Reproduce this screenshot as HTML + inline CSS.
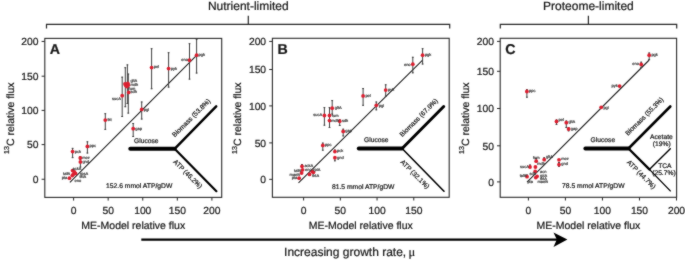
<!DOCTYPE html>
<html><head><meta charset="utf-8"><style>
html,body{margin:0;padding:0;background:#fff;}
svg{display:block;will-change:transform;}
text{font-family:"Liberation Sans", sans-serif;fill:#1a1a1a;stroke:#1a1a1a;stroke-width:0.22px;text-rendering:geometricPrecision;}
.lb{fill:#3a3a3a;stroke:#3a3a3a;stroke-width:0.2px;}
</style></head><body>
<svg width="685" height="260" viewBox="0 0 685 260">
<defs><filter id="sf" color-interpolation-filters="sRGB" filterUnits="userSpaceOnUse" x="0" y="0" width="685" height="260"><feConvolveMatrix order="3" kernelMatrix="1 2 1 2 20 2 1 2 1" divisor="32" edgeMode="duplicate"/></filter></defs><g filter="url(#sf)"><rect x="0" y="0" width="685" height="260" fill="#fff"/>
<text x="248.3" y="9.9" text-anchor="middle" font-size="12">Nutrient-limited</text>
<path d="M46.5,28.6 V24.3 H449.7 V28.6 M248.3,24.3 V15.8" fill="none" stroke="#2a2a2a" stroke-width="1.2"/>
<text x="588.4" y="9.9" text-anchor="middle" font-size="12">Proteome-limited</text>
<path d="M500.3,28.6 V24.3 H676.7 V28.6 M588.4,24.3 V15.8" fill="none" stroke="#2a2a2a" stroke-width="1.2"/>
<rect x="44.8" y="38.4" width="176.90" height="159.00" fill="none" stroke="#2a2a2a" stroke-width="1.1"/>
<line x1="41.60" y1="179.25" x2="44.80" y2="179.25" stroke="#2a2a2a" stroke-width="1"/>
<text x="38.50" y="183.00" text-anchor="end" font-size="10.3">0</text>
<line x1="41.60" y1="144.60" x2="44.80" y2="144.60" stroke="#2a2a2a" stroke-width="1"/>
<text x="38.50" y="148.35" text-anchor="end" font-size="10.3">50</text>
<line x1="41.60" y1="110.40" x2="44.80" y2="110.40" stroke="#2a2a2a" stroke-width="1"/>
<text x="38.50" y="114.15" text-anchor="end" font-size="10.3">100</text>
<line x1="41.60" y1="76.20" x2="44.80" y2="76.20" stroke="#2a2a2a" stroke-width="1"/>
<text x="38.50" y="79.95" text-anchor="end" font-size="10.3">150</text>
<line x1="41.60" y1="41.45" x2="44.80" y2="41.45" stroke="#2a2a2a" stroke-width="1"/>
<text x="38.50" y="45.20" text-anchor="end" font-size="10.3">200</text>
<line x1="73.60" y1="197.40" x2="73.60" y2="200.60" stroke="#2a2a2a" stroke-width="1"/>
<text x="73.60" y="213.6" text-anchor="middle" font-size="10.3">0</text>
<line x1="108.17" y1="197.40" x2="108.17" y2="200.60" stroke="#2a2a2a" stroke-width="1"/>
<text x="108.17" y="213.6" text-anchor="middle" font-size="10.3">50</text>
<line x1="142.75" y1="197.40" x2="142.75" y2="200.60" stroke="#2a2a2a" stroke-width="1"/>
<text x="142.75" y="213.6" text-anchor="middle" font-size="10.3">100</text>
<line x1="177.32" y1="197.40" x2="177.32" y2="200.60" stroke="#2a2a2a" stroke-width="1"/>
<text x="177.32" y="213.6" text-anchor="middle" font-size="10.3">150</text>
<line x1="211.90" y1="197.40" x2="211.90" y2="200.60" stroke="#2a2a2a" stroke-width="1"/>
<text x="211.90" y="213.6" text-anchor="middle" font-size="10.3">200</text>
<text x="133.25" y="228.8" text-anchor="middle" font-size="10.5">ME-Model relative flux</text>
<text transform="translate(13.50,118.20) rotate(-90)" text-anchor="middle" font-size="10.5"><tspan font-size="7.2" dy="-4.6">13</tspan><tspan dy="4.6">C relative flux</tspan></text>
<text x="49.80" y="53.6" font-size="14.2" font-weight="bold">A</text>
<rect x="272.4" y="38.3" width="176.80" height="159.00" fill="none" stroke="#2a2a2a" stroke-width="1.1"/>
<line x1="269.20" y1="179.35" x2="272.40" y2="179.35" stroke="#2a2a2a" stroke-width="1"/>
<text x="266.10" y="183.10" text-anchor="end" font-size="10.3">0</text>
<line x1="269.20" y1="142.90" x2="272.40" y2="142.90" stroke="#2a2a2a" stroke-width="1"/>
<text x="266.10" y="146.65" text-anchor="end" font-size="10.3">50</text>
<line x1="269.20" y1="105.90" x2="272.40" y2="105.90" stroke="#2a2a2a" stroke-width="1"/>
<text x="266.10" y="109.65" text-anchor="end" font-size="10.3">100</text>
<line x1="269.20" y1="69.50" x2="272.40" y2="69.50" stroke="#2a2a2a" stroke-width="1"/>
<text x="266.10" y="73.25" text-anchor="end" font-size="10.3">150</text>
<line x1="269.20" y1="41.45" x2="272.40" y2="41.45" stroke="#2a2a2a" stroke-width="1"/>
<text x="266.10" y="45.20" text-anchor="end" font-size="10.3">200</text>
<line x1="303.60" y1="197.30" x2="303.60" y2="200.50" stroke="#2a2a2a" stroke-width="1"/>
<text x="303.60" y="213.6" text-anchor="middle" font-size="10.3">0</text>
<line x1="340.33" y1="197.30" x2="340.33" y2="200.50" stroke="#2a2a2a" stroke-width="1"/>
<text x="340.33" y="213.6" text-anchor="middle" font-size="10.3">50</text>
<line x1="377.05" y1="197.30" x2="377.05" y2="200.50" stroke="#2a2a2a" stroke-width="1"/>
<text x="377.05" y="213.6" text-anchor="middle" font-size="10.3">100</text>
<line x1="413.78" y1="197.30" x2="413.78" y2="200.50" stroke="#2a2a2a" stroke-width="1"/>
<text x="413.78" y="213.6" text-anchor="middle" font-size="10.3">150</text>
<text x="360.80" y="228.8" text-anchor="middle" font-size="10.5">ME-Model relative flux</text>
<text transform="translate(241.10,118.20) rotate(-90)" text-anchor="middle" font-size="10.5"><tspan font-size="7.2" dy="-4.6">13</tspan><tspan dy="4.6">C relative flux</tspan></text>
<text x="277.40" y="53.6" font-size="14.2" font-weight="bold">B</text>
<rect x="500.2" y="38.3" width="176.40" height="159.00" fill="none" stroke="#2a2a2a" stroke-width="1.1"/>
<line x1="497.00" y1="181.90" x2="500.20" y2="181.90" stroke="#2a2a2a" stroke-width="1"/>
<text x="493.90" y="185.65" text-anchor="end" font-size="10.3">0</text>
<line x1="497.00" y1="145.80" x2="500.20" y2="145.80" stroke="#2a2a2a" stroke-width="1"/>
<text x="493.90" y="149.55" text-anchor="end" font-size="10.3">50</text>
<line x1="497.00" y1="108.50" x2="500.20" y2="108.50" stroke="#2a2a2a" stroke-width="1"/>
<text x="493.90" y="112.25" text-anchor="end" font-size="10.3">100</text>
<line x1="497.00" y1="71.30" x2="500.20" y2="71.30" stroke="#2a2a2a" stroke-width="1"/>
<text x="493.90" y="75.05" text-anchor="end" font-size="10.3">150</text>
<line x1="497.00" y1="41.40" x2="500.20" y2="41.40" stroke="#2a2a2a" stroke-width="1"/>
<text x="493.90" y="45.15" text-anchor="end" font-size="10.3">200</text>
<line x1="528.40" y1="197.30" x2="528.40" y2="200.50" stroke="#2a2a2a" stroke-width="1"/>
<text x="528.40" y="213.6" text-anchor="middle" font-size="10.3">0</text>
<line x1="565.42" y1="197.30" x2="565.42" y2="200.50" stroke="#2a2a2a" stroke-width="1"/>
<text x="565.42" y="213.6" text-anchor="middle" font-size="10.3">50</text>
<line x1="602.45" y1="197.30" x2="602.45" y2="200.50" stroke="#2a2a2a" stroke-width="1"/>
<text x="602.45" y="213.6" text-anchor="middle" font-size="10.3">100</text>
<line x1="639.48" y1="197.30" x2="639.48" y2="200.50" stroke="#2a2a2a" stroke-width="1"/>
<text x="639.48" y="213.6" text-anchor="middle" font-size="10.3">150</text>
<line x1="676.50" y1="197.30" x2="676.50" y2="200.50" stroke="#2a2a2a" stroke-width="1"/>
<text x="676.50" y="213.6" text-anchor="middle" font-size="10.3">200</text>
<text x="588.40" y="228.8" text-anchor="middle" font-size="10.5">ME-Model relative flux</text>
<text transform="translate(468.90,118.20) rotate(-90)" text-anchor="middle" font-size="10.5"><tspan font-size="7.2" dy="-4.6">13</tspan><tspan dy="4.6">C relative flux</tspan></text>
<text x="505.20" y="53.6" font-size="14.2" font-weight="bold">C</text>
<line x1="69.9" y1="182.4" x2="196.6" y2="55.3" stroke="#222" stroke-width="1.1"/>
<line x1="196.6" y1="38.9" x2="196.6" y2="73.5" stroke="#404040" stroke-width="1.0"/>
<path d="M195.70,39.40h1.8M195.70,73.00h1.8" stroke="#404040" stroke-width="1.0"/>
<line x1="189.5" y1="43.2" x2="189.5" y2="79.6" stroke="#404040" stroke-width="1.0"/>
<path d="M188.60,43.70h1.8M188.60,79.10h1.8" stroke="#404040" stroke-width="1.0"/>
<line x1="151.6" y1="48.2" x2="151.6" y2="89.2" stroke="#404040" stroke-width="1.0"/>
<path d="M150.70,48.70h1.8M150.70,88.70h1.8" stroke="#404040" stroke-width="1.0"/>
<line x1="168.6" y1="52.2" x2="168.6" y2="87.6" stroke="#404040" stroke-width="1.0"/>
<path d="M167.70,52.70h1.8M167.70,87.10h1.8" stroke="#404040" stroke-width="1.0"/>
<line x1="125.3" y1="67.2" x2="125.3" y2="107.2" stroke="#404040" stroke-width="1.0"/>
<path d="M124.40,67.70h1.8M124.40,106.70h1.8" stroke="#404040" stroke-width="1.0"/>
<line x1="127.4" y1="64.4" x2="127.4" y2="104.0" stroke="#404040" stroke-width="1.0"/>
<path d="M126.50,64.90h1.8M126.50,103.50h1.8" stroke="#404040" stroke-width="1.0"/>
<line x1="128.3" y1="73.6" x2="128.3" y2="113.6" stroke="#404040" stroke-width="1.0"/>
<path d="M127.40,74.10h1.8M127.40,113.10h1.8" stroke="#404040" stroke-width="1.0"/>
<line x1="122.2" y1="76.7" x2="122.2" y2="117.0" stroke="#404040" stroke-width="1.0"/>
<path d="M121.30,77.20h1.8M121.30,116.50h1.8" stroke="#404040" stroke-width="1.0"/>
<line x1="141.7" y1="101.5" x2="141.7" y2="119.5" stroke="#404040" stroke-width="1.0"/>
<path d="M140.80,102.00h1.8M140.80,119.00h1.8" stroke="#404040" stroke-width="1.0"/>
<line x1="105.3" y1="113.2" x2="105.3" y2="129.9" stroke="#404040" stroke-width="1.0"/>
<path d="M104.40,113.70h1.8M104.40,129.40h1.8" stroke="#404040" stroke-width="1.0"/>
<line x1="133.2" y1="123.0" x2="133.2" y2="137.0" stroke="#404040" stroke-width="1.0"/>
<path d="M132.30,123.50h1.8M132.30,136.50h1.8" stroke="#404040" stroke-width="1.0"/>
<line x1="87.4" y1="141.3" x2="87.4" y2="153.5" stroke="#404040" stroke-width="1.0"/>
<path d="M86.50,141.80h1.8M86.50,153.00h1.8" stroke="#404040" stroke-width="1.0"/>
<line x1="72.6" y1="147.9" x2="72.6" y2="158.1" stroke="#404040" stroke-width="1.0"/>
<path d="M71.70,148.40h1.8M71.70,157.60h1.8" stroke="#404040" stroke-width="1.0"/>
<line x1="80.3" y1="156.0" x2="80.3" y2="160.0" stroke="#404040" stroke-width="1.0"/>
<path d="M79.40,156.50h1.8M79.40,159.50h1.8" stroke="#404040" stroke-width="1.0"/>
<line x1="80.4" y1="162" x2="80.4" y2="167.5" stroke="#404040" stroke-width="1.0"/>
<path d="M79.50,162.50h1.8M79.50,167.00h1.8" stroke="#404040" stroke-width="1.0"/>
<circle cx="196.6" cy="55.2" r="1.9" fill="#dc1f30"/>
<circle cx="189.5" cy="60.2" r="1.9" fill="#dc1f30"/>
<circle cx="151.6" cy="67.6" r="1.9" fill="#dc1f30"/>
<circle cx="168.6" cy="68.6" r="1.9" fill="#dc1f30"/>
<circle cx="125.8" cy="85.6" r="1.9" fill="#dc1f30"/>
<circle cx="127.8" cy="83.3" r="1.9" fill="#dc1f30"/>
<circle cx="127.0" cy="86.5" r="1.9" fill="#dc1f30"/>
<circle cx="125.0" cy="84.0" r="1.9" fill="#dc1f30"/>
<circle cx="128.3" cy="85.2" r="1.9" fill="#dc1f30"/>
<circle cx="128.7" cy="92.4" r="1.9" fill="#dc1f30"/>
<circle cx="122.2" cy="95.7" r="1.9" fill="#dc1f30"/>
<circle cx="141.7" cy="109.4" r="1.9" fill="#dc1f30"/>
<circle cx="105.3" cy="120.1" r="1.9" fill="#dc1f30"/>
<circle cx="133.2" cy="128.7" r="1.9" fill="#dc1f30"/>
<circle cx="87.4" cy="146.4" r="1.9" fill="#dc1f30"/>
<circle cx="72.6" cy="151.6" r="1.9" fill="#dc1f30"/>
<circle cx="80.3" cy="157.9" r="1.9" fill="#dc1f30"/>
<circle cx="80.4" cy="161.9" r="1.9" fill="#dc1f30"/>
<circle cx="72.6" cy="170.6" r="1.9" fill="#dc1f30"/>
<circle cx="74.3" cy="172.0" r="1.9" fill="#dc1f30"/>
<circle cx="75.5" cy="173.4" r="1.9" fill="#dc1f30"/>
<circle cx="73.2" cy="174.4" r="1.9" fill="#dc1f30"/>
<circle cx="72.3" cy="175.6" r="1.9" fill="#dc1f30"/>
<circle cx="69.4" cy="178.2" r="1.9" fill="#dc1f30"/>
<text class="lb" x="198.6" y="56.00" font-size="4.0" text-anchor="start">pgk</text>
<text class="lb" x="188.0" y="61.20" font-size="4.0" text-anchor="end">eno</text>
<text class="lb" x="153.8" y="68.40" font-size="4.0" text-anchor="start">pel</text>
<text class="lb" x="170.8" y="69.50" font-size="4.0" text-anchor="start">pyk</text>
<text class="lb" x="130.4" y="81.80" font-size="4.0" text-anchor="start">gltA</text>
<text class="lb" x="130.4" y="85.60" font-size="4.0" text-anchor="start">mdh</text>
<text class="lb" x="128.6" y="89.80" font-size="4.0" text-anchor="start">fum</text>
<text class="lb" x="130.6" y="93.30" font-size="4.0" text-anchor="start">sdh</text>
<text class="lb" x="121.0" y="100.40" font-size="4.0" text-anchor="end">sucA</text>
<text class="lb" x="143.8" y="111.00" font-size="4.0" text-anchor="start">pgi</text>
<text class="lb" x="107.4" y="121.00" font-size="4.0" text-anchor="start">tkt</text>
<text class="lb" x="135.2" y="129.60" font-size="4.0" text-anchor="start">gap</text>
<text class="lb" x="89.6" y="147.30" font-size="4.0" text-anchor="start">ppc</text>
<text class="lb" x="74.8" y="152.50" font-size="4.0" text-anchor="start">pck</text>
<text class="lb" x="82.2" y="158.70" font-size="4.0" text-anchor="start">mez</text>
<text class="lb" x="82.4" y="162.90" font-size="4.0" text-anchor="start">gnd</text>
<text class="lb" x="72.5" y="169.60" font-size="4.0" text-anchor="start">ackA</text>
<text class="lb" x="70.0" y="174.50" font-size="4.0" text-anchor="end">talB</text>
<text class="lb" x="80.0" y="175.10" font-size="4.0" text-anchor="start">rpsA</text>
<text class="lb" x="79.4" y="178.40" font-size="4.0" text-anchor="start">tktA</text>
<text class="lb" x="67.2" y="178.90" font-size="4.0" text-anchor="end">pta</text>
<text class="lb" x="74.5" y="181.90" font-size="4.0" text-anchor="start">eno</text>
<line x1="130.3" y1="148.8" x2="174.6" y2="148.8" stroke="#000" stroke-width="4.0" stroke-linecap="round"/>
<line x1="174.6" y1="148.8" x2="216.2" y2="106.3" stroke="#000" stroke-width="2.5" stroke-linecap="round"/>
<line x1="174.6" y1="148.8" x2="216.4" y2="191.2" stroke="#000" stroke-width="2.2" stroke-linecap="round"/>
<text x="134.0" y="142.7" font-size="6.7">Glucose</text>
<text transform="translate(174.80,137.50) rotate(-45)" font-size="6.7">Biomass (53.8%)</text>
<text transform="translate(175.70,159.40) rotate(45)" font-size="6.7" dominant-baseline="hanging">ATP (46.2%)</text>
<text x="106.0" y="187.6" font-size="6.75">152.6 mmol ATP/gDW</text>
<line x1="298.5" y1="182.8" x2="422.6" y2="60.1" stroke="#222" stroke-width="1.1"/>
<line x1="422.6" y1="48.2" x2="422.6" y2="64.5" stroke="#404040" stroke-width="1.0"/>
<path d="M421.70,48.70h1.8M421.70,64.00h1.8" stroke="#404040" stroke-width="1.0"/>
<line x1="412.8" y1="56.8" x2="412.8" y2="73.3" stroke="#404040" stroke-width="1.0"/>
<path d="M411.90,57.30h1.8M411.90,72.80h1.8" stroke="#404040" stroke-width="1.0"/>
<line x1="385.7" y1="84.3" x2="385.7" y2="96.8" stroke="#404040" stroke-width="1.0"/>
<path d="M384.80,84.80h1.8M384.80,96.30h1.8" stroke="#404040" stroke-width="1.0"/>
<line x1="363.1" y1="88.1" x2="363.1" y2="105.8" stroke="#404040" stroke-width="1.0"/>
<path d="M362.20,88.60h1.8M362.20,105.30h1.8" stroke="#404040" stroke-width="1.0"/>
<line x1="376.3" y1="101.5" x2="376.3" y2="110.3" stroke="#404040" stroke-width="1.0"/>
<path d="M375.40,102.00h1.8M375.40,109.80h1.8" stroke="#404040" stroke-width="1.0"/>
<line x1="332.2" y1="100.1" x2="332.2" y2="114.5" stroke="#404040" stroke-width="1.0"/>
<path d="M331.30,100.60h1.8M331.30,114.00h1.8" stroke="#404040" stroke-width="1.0"/>
<line x1="324.4" y1="107.1" x2="324.4" y2="125.7" stroke="#404040" stroke-width="1.0"/>
<path d="M323.50,107.60h1.8M323.50,125.20h1.8" stroke="#404040" stroke-width="1.0"/>
<line x1="329.5" y1="107.1" x2="329.5" y2="128.0" stroke="#404040" stroke-width="1.0"/>
<path d="M328.60,107.60h1.8M328.60,127.50h1.8" stroke="#404040" stroke-width="1.0"/>
<line x1="339.7" y1="119.2" x2="339.7" y2="126.0" stroke="#404040" stroke-width="1.0"/>
<path d="M338.80,119.70h1.8M338.80,125.50h1.8" stroke="#404040" stroke-width="1.0"/>
<line x1="343.2" y1="128.7" x2="343.2" y2="136.4" stroke="#404040" stroke-width="1.0"/>
<path d="M342.30,129.20h1.8M342.30,135.90h1.8" stroke="#404040" stroke-width="1.0"/>
<line x1="322.8" y1="142.6" x2="322.8" y2="150.7" stroke="#404040" stroke-width="1.0"/>
<path d="M321.90,143.10h1.8M321.90,150.20h1.8" stroke="#404040" stroke-width="1.0"/>
<line x1="334.9" y1="149.5" x2="334.9" y2="153.0" stroke="#404040" stroke-width="1.0"/>
<path d="M334.00,150.00h1.8M334.00,152.50h1.8" stroke="#404040" stroke-width="1.0"/>
<line x1="334.9" y1="157" x2="334.9" y2="161.3" stroke="#404040" stroke-width="1.0"/>
<path d="M334.00,157.50h1.8M334.00,160.80h1.8" stroke="#404040" stroke-width="1.0"/>
<line x1="302.0" y1="164.0" x2="302.0" y2="168.0" stroke="#404040" stroke-width="1.0"/>
<path d="M301.10,164.50h1.8M301.10,167.50h1.8" stroke="#404040" stroke-width="1.0"/>
<circle cx="422.6" cy="55.2" r="1.9" fill="#dc1f30"/>
<circle cx="412.8" cy="64.2" r="1.9" fill="#dc1f30"/>
<circle cx="385.7" cy="90.1" r="1.9" fill="#dc1f30"/>
<circle cx="363.1" cy="95.9" r="1.9" fill="#dc1f30"/>
<circle cx="376.3" cy="105.3" r="1.9" fill="#dc1f30"/>
<circle cx="332.2" cy="108.2" r="1.9" fill="#dc1f30"/>
<circle cx="324.4" cy="115.5" r="1.9" fill="#dc1f30"/>
<circle cx="329.5" cy="115.5" r="1.9" fill="#dc1f30"/>
<circle cx="329.5" cy="120.6" r="1.9" fill="#dc1f30"/>
<circle cx="339.7" cy="121.2" r="1.9" fill="#dc1f30"/>
<circle cx="343.2" cy="131.4" r="1.9" fill="#dc1f30"/>
<circle cx="322.8" cy="145.4" r="1.9" fill="#dc1f30"/>
<circle cx="334.9" cy="151.6" r="1.9" fill="#dc1f30"/>
<circle cx="334.9" cy="157.7" r="1.9" fill="#dc1f30"/>
<circle cx="302.0" cy="166.3" r="1.9" fill="#dc1f30"/>
<circle cx="302.6" cy="169.8" r="1.9" fill="#dc1f30"/>
<circle cx="301.6" cy="173.0" r="1.9" fill="#dc1f30"/>
<circle cx="299.1" cy="178.2" r="1.9" fill="#dc1f30"/>
<circle cx="309.5" cy="174.4" r="1.9" fill="#dc1f30"/>
<circle cx="312.2" cy="171.6" r="1.9" fill="#dc1f30"/>
<circle cx="313.4" cy="172.3" r="1.9" fill="#dc1f30"/>
<text class="lb" x="424.9" y="56.10" font-size="4.0" text-anchor="start">pgk</text>
<text class="lb" x="410.6" y="65.60" font-size="4.0" text-anchor="end">eno</text>
<text class="lb" x="388.0" y="91.20" font-size="4.0" text-anchor="start">pyk</text>
<text class="lb" x="365.4" y="96.80" font-size="4.0" text-anchor="start">pel</text>
<text class="lb" x="378.8" y="107.10" font-size="4.0" text-anchor="start">pgi</text>
<text class="lb" x="334.8" y="109.20" font-size="4.0" text-anchor="start">gltA</text>
<text class="lb" x="322.2" y="116.40" font-size="4.0" text-anchor="end">sucA</text>
<text class="lb" x="331.8" y="116.60" font-size="4.0" text-anchor="start">fum</text>
<text class="lb" x="331.2" y="121.60" font-size="4.0" text-anchor="start">mdh</text>
<text class="lb" x="341.9" y="122.20" font-size="4.0" text-anchor="start">sdh</text>
<text class="lb" x="345.2" y="131.80" font-size="4.0" text-anchor="start">gap</text>
<text class="lb" x="325.0" y="146.20" font-size="4.0" text-anchor="start">ppc</text>
<text class="lb" x="337.0" y="152.40" font-size="4.0" text-anchor="start">pck</text>
<text class="lb" x="337.0" y="158.60" font-size="4.0" text-anchor="start">gnd</text>
<text class="lb" x="304.4" y="166.80" font-size="4.0" text-anchor="start">ackA</text>
<text class="lb" x="305.0" y="170.60" font-size="4.0" text-anchor="start">eno</text>
<text class="lb" x="301.0" y="172.20" font-size="4.0" text-anchor="end">talB</text>
<text class="lb" x="300.0" y="175.60" font-size="4.0" text-anchor="end">maeB</text>
<text class="lb" x="297.2" y="178.80" font-size="4.0" text-anchor="end">pta</text>
<text class="lb" x="313.2" y="171.20" font-size="4.0" text-anchor="start">rpiA</text>
<text class="lb" x="312.2" y="176.80" font-size="4.0" text-anchor="start">tktA</text>
<line x1="358.8" y1="148.5" x2="402.1" y2="148.5" stroke="#000" stroke-width="4.0" stroke-linecap="round"/>
<line x1="402.1" y1="148.5" x2="443.7" y2="106.5" stroke="#000" stroke-width="3.0" stroke-linecap="round"/>
<line x1="402.1" y1="148.5" x2="444.0" y2="191.2" stroke="#000" stroke-width="1.6" stroke-linecap="round"/>
<text x="364.0" y="141.9" font-size="6.7">Glucose</text>
<text transform="translate(402.30,137.20) rotate(-45)" font-size="6.7">Biomass (67.9%)</text>
<text transform="translate(402.90,159.70) rotate(45)" font-size="6.7" dominant-baseline="hanging">ATP (32.1%)</text>
<text x="331.9" y="188.8" font-size="6.75">81.5 mmol ATP/gDW</text>
<line x1="527.0" y1="182.2" x2="649.2" y2="60.0" stroke="#222" stroke-width="1.1"/>
<line x1="649.2" y1="52.5" x2="649.2" y2="60.0" stroke="#404040" stroke-width="1.0"/>
<path d="M648.30,53.00h1.8M648.30,59.50h1.8" stroke="#404040" stroke-width="1.0"/>
<line x1="641.2" y1="61.7" x2="641.2" y2="68.0" stroke="#404040" stroke-width="1.0"/>
<path d="M640.30,62.20h1.8M640.30,67.50h1.8" stroke="#404040" stroke-width="1.0"/>
<line x1="526.9" y1="89.2" x2="526.9" y2="97.7" stroke="#404040" stroke-width="1.0"/>
<path d="M526.00,89.70h1.8M526.00,97.20h1.8" stroke="#404040" stroke-width="1.0"/>
<line x1="556.5" y1="119.5" x2="556.5" y2="125.0" stroke="#404040" stroke-width="1.0"/>
<path d="M555.60,120.00h1.8M555.60,124.50h1.8" stroke="#404040" stroke-width="1.0"/>
<line x1="566.3" y1="120.5" x2="566.3" y2="128.0" stroke="#404040" stroke-width="1.0"/>
<path d="M565.40,121.00h1.8M565.40,127.50h1.8" stroke="#404040" stroke-width="1.0"/>
<line x1="568.6" y1="127.3" x2="568.6" y2="131.3" stroke="#404040" stroke-width="1.0"/>
<path d="M567.70,127.80h1.8M567.70,130.80h1.8" stroke="#404040" stroke-width="1.0"/>
<line x1="559.0" y1="162.0" x2="559.0" y2="166.9" stroke="#404040" stroke-width="1.0"/>
<path d="M558.10,162.50h1.8M558.10,166.40h1.8" stroke="#404040" stroke-width="1.0"/>
<line x1="536.2" y1="158.2" x2="536.2" y2="161.2" stroke="#404040" stroke-width="1.0"/>
<path d="M535.30,158.70h1.8M535.30,160.70h1.8" stroke="#404040" stroke-width="1.0"/>
<line x1="544.2" y1="157.2" x2="544.2" y2="160.0" stroke="#404040" stroke-width="1.0"/>
<path d="M543.30,157.70h1.8M543.30,159.50h1.8" stroke="#404040" stroke-width="1.0"/>
<line x1="530.0" y1="164.5" x2="530.0" y2="167" stroke="#404040" stroke-width="1.0"/>
<path d="M529.10,165.00h1.8M529.10,166.50h1.8" stroke="#404040" stroke-width="1.0"/>
<line x1="527.0" y1="174.5" x2="527.0" y2="177.0" stroke="#404040" stroke-width="1.0"/>
<path d="M526.10,175.00h1.8M526.10,176.50h1.8" stroke="#404040" stroke-width="1.0"/>
<circle cx="649.2" cy="55.2" r="1.9" fill="#dc1f30"/>
<circle cx="641.2" cy="64.4" r="1.9" fill="#dc1f30"/>
<circle cx="619.6" cy="86.1" r="1.9" fill="#dc1f30"/>
<circle cx="526.9" cy="91.5" r="1.9" fill="#dc1f30"/>
<circle cx="601.2" cy="107.3" r="1.9" fill="#dc1f30"/>
<circle cx="556.5" cy="121.5" r="1.9" fill="#dc1f30"/>
<circle cx="566.3" cy="122.7" r="1.9" fill="#dc1f30"/>
<circle cx="568.6" cy="129.0" r="1.9" fill="#dc1f30"/>
<circle cx="559.0" cy="159.8" r="1.9" fill="#dc1f30"/>
<circle cx="559.0" cy="164.6" r="1.9" fill="#dc1f30"/>
<circle cx="536.2" cy="161.2" r="1.9" fill="#dc1f30"/>
<circle cx="544.2" cy="159.7" r="1.9" fill="#dc1f30"/>
<circle cx="530.0" cy="167.0" r="1.9" fill="#dc1f30"/>
<circle cx="535.4" cy="167.0" r="1.9" fill="#dc1f30"/>
<circle cx="535.2" cy="171.4" r="1.9" fill="#dc1f30"/>
<circle cx="527.0" cy="176.7" r="1.9" fill="#dc1f30"/>
<circle cx="535.8" cy="177.6" r="1.9" fill="#dc1f30"/>
<circle cx="537.1" cy="176.3" r="1.9" fill="#dc1f30"/>
<text class="lb" x="651.4" y="56.10" font-size="4.0" text-anchor="start">pgk</text>
<text class="lb" x="639.0" y="65.40" font-size="4.0" text-anchor="end">eno</text>
<text class="lb" x="617.8" y="87.20" font-size="4.0" text-anchor="end">pyk</text>
<text class="lb" x="529.0" y="92.40" font-size="4.0" text-anchor="start">ppc</text>
<text class="lb" x="603.4" y="108.60" font-size="4.0" text-anchor="start">pgi</text>
<text class="lb" x="558.6" y="120.80" font-size="4.0" text-anchor="start">pel</text>
<text class="lb" x="568.4" y="123.20" font-size="4.0" text-anchor="start">gltA</text>
<text class="lb" x="570.8" y="129.50" font-size="4.0" text-anchor="start">gap</text>
<text class="lb" x="561.2" y="159.80" font-size="4.0" text-anchor="start">mez</text>
<text class="lb" x="561.2" y="164.80" font-size="4.0" text-anchor="start">gnd</text>
<text class="lb" x="533.0" y="159.20" font-size="4.0" text-anchor="start">fum</text>
<text class="lb" x="546.0" y="157.80" font-size="4.0" text-anchor="start">gltA</text>
<text class="lb" x="537.2" y="164.80" font-size="4.0" text-anchor="start">mdh</text>
<text class="lb" x="529.0" y="168.40" font-size="4.0" text-anchor="end">sucA</text>
<text class="lb" x="540.0" y="173.00" font-size="4.0" text-anchor="start">acn</text>
<text class="lb" x="529.5" y="174.90" font-size="4.0" text-anchor="start">sdh</text>
<text class="lb" x="526.6" y="177.20" font-size="4.0" text-anchor="end">talB</text>
<text class="lb" x="540.0" y="176.70" font-size="4.0" text-anchor="start">rpiA</text>
<text class="lb" x="540.0" y="179.70" font-size="4.0" text-anchor="start">tktA</text>
<text class="lb" x="537.4" y="182.70" font-size="4.0" text-anchor="start">maeB</text>
<text class="lb" x="527.4" y="182.80" font-size="4.0" text-anchor="start">pta</text>
<line x1="585.4" y1="148.5" x2="628.5" y2="148.5" stroke="#000" stroke-width="4.0" stroke-linecap="round"/>
<line x1="628.5" y1="148.5" x2="670.3" y2="106.5" stroke="#000" stroke-width="2.6" stroke-linecap="round"/>
<line x1="628.5" y1="148.5" x2="649.4" y2="169.4" stroke="#000" stroke-width="2.4" stroke-linecap="round"/><line x1="649.4" y1="169.4" x2="670.3" y2="190.9" stroke="#000" stroke-width="1.35" stroke-linecap="round"/><line x1="649.4" y1="169.4" x2="670.3" y2="148.7" stroke="#000" stroke-width="1.4" stroke-linecap="round"/>
<text x="590.6" y="142.4" font-size="6.7">Glucose</text>
<text transform="translate(627.90,136.00) rotate(-45)" font-size="6.7">Biomass (55.3%)</text>
<text transform="translate(629.30,159.90) rotate(45)" font-size="6.7" dominant-baseline="hanging">ATP (44.7%)</text>
<text x="661.4" y="138.7" font-size="6.7" text-anchor="middle">Acetate</text>
<text x="661.7" y="146.2" font-size="6.7" text-anchor="middle">(19%)</text>
<text x="664.9" y="167.5" font-size="6.7" text-anchor="middle">TCA</text>
<text x="663.9" y="174.9" font-size="6.7" text-anchor="middle">(25.7%)</text>
<text x="562.1" y="188.1" font-size="6.75">78.5 mmol ATP/gDW</text>
<line x1="141.3" y1="239.6" x2="560" y2="239.6" stroke="#000" stroke-width="2.4"/>
<path d="M567.4,239.6 L553.5,232.6 L556.8,239.6 L553.5,246.9 Z" fill="#000"/>
<text x="284.1" y="256.2" font-size="12">Increasing growth rate, <tspan font-family="Liberation Serif" font-size="12.5" dx="-1">μ</tspan></text>
</g></svg></body></html>
